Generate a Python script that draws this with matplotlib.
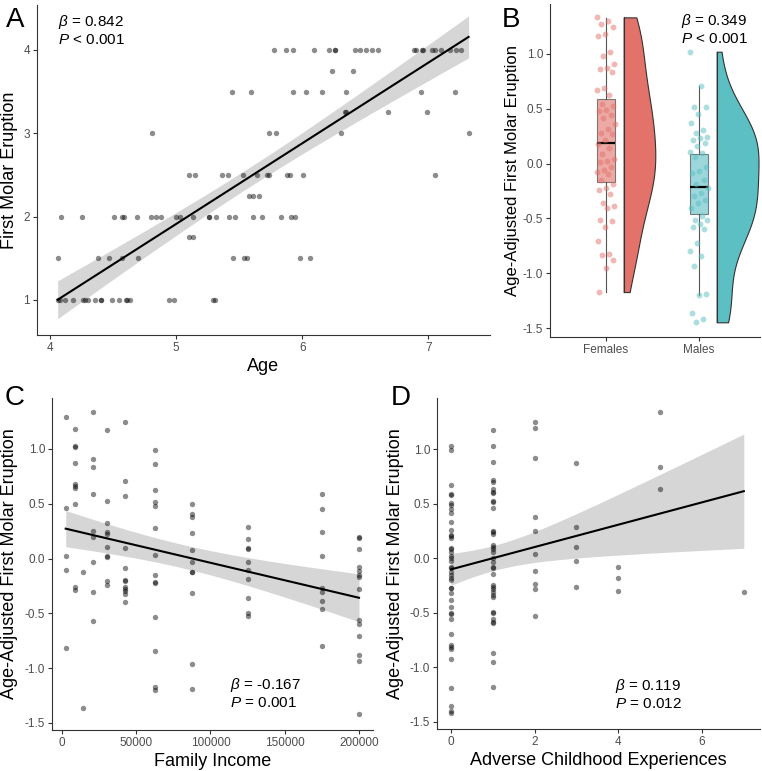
import matplotlib
matplotlib.use("Agg")
import matplotlib.pyplot as plt
import numpy as np

plt.rcParams['font.family'] = ['Liberation Sans', 'DejaVu Sans']
plt.rcParams['mathtext.fontset'] = 'custom'
plt.rcParams['mathtext.it'] = 'Liberation Sans:italic'
plt.rcParams['mathtext.rm'] = 'Liberation Sans'
plt.rcParams['axes.unicode_minus'] = False

# ---- A: age vs first molar eruption score
age_a = [5.78, 5.87, 5.93, 6.09, 6.21, 6.26, 6.26, 6.42, 6.46, 6.51, 6.55, 6.60, 6.89, 6.90, 6.95, 6.96, 7.03, 7.05, 7.10, 7.17, 7.22, 7.26,
         6.24, 6.40,
         5.44, 5.59, 5.93, 6.03, 6.16, 6.35, 6.94, 7.21,
         6.34, 6.35, 6.68, 6.99,
         4.81, 5.74, 5.79, 6.31, 7.32,
         5.10, 5.15, 5.36, 5.41, 5.53, 5.64, 5.72, 5.74, 5.88, 5.90, 6.01, 7.05,
         5.58, 5.61, 5.66,
         4.09, 4.25, 4.51, 4.57, 4.59, 4.69, 4.80, 4.84, 4.88, 5.00, 5.03, 5.13, 5.26, 5.26, 5.32, 5.42, 5.47, 5.61, 5.68, 5.83, 5.91, 5.94,
         5.10, 5.13,
         4.06, 4.38, 4.47, 4.57, 4.70, 5.45, 5.54, 5.56, 5.98, 6.06,
         4.06, 4.08, 4.12, 4.18, 4.26, 4.28, 4.30, 4.36, 4.40, 4.40, 4.49, 4.55, 4.60, 4.61, 4.63, 4.94, 4.98, 5.29, 5.31]
molar_a = [4.0]*22 + [3.75]*2 + [3.5]*8 + [3.25]*4 + [3.0]*5 + [2.5]*12 + [2.25]*3 + [2.0]*22 + [1.75]*2 + [1.5]*10 + [1.0]*19

# ---- B: age-adjusted eruption by sex
females = [1.334, 1.304, 1.273, 1.243, 1.182, 1.164, 1.021, 0.985, 0.909, 0.869, 0.860, 0.833, 0.687, 0.672, 0.626,
           0.544, 0.526, 0.490, 0.484, 0.444, 0.414, 0.362, 0.313, 0.283, 0.271, 0.216, 0.180, 0.140, 0.089, 0.040,
           0.028, 0.010, -0.027, -0.057, -0.081, -0.094, -0.148, -0.185, -0.224, -0.239, -0.276, -0.355, -0.391,
           -0.406, -0.513, -0.528, -0.574, -0.710, -0.823, -0.832, -0.877, -0.956, -1.172]
males = [1.021, 0.708, 0.520, 0.520, 0.453, 0.368, 0.307, 0.283, 0.241, 0.231, 0.216, 0.186, 0.156, 0.110, 0.095,
         0.058, -0.027, -0.072, -0.087, -0.148, -0.185, -0.224, -0.270, -0.300, -0.330, -0.355, -0.406, -0.482,
         -0.513, -0.519, -0.549, -0.574, -0.598, -0.725, -0.801, -0.847, -0.932, -1.187, -1.196, -1.363, -1.415, -1.448]
sex_labels = ['Females', 'Males']
box_q1 = [-0.17, -0.46]
box_med = [0.19, -0.21]
box_q3 = [0.585, 0.09]
box_lo = [-1.17, -1.20]
box_hi = [1.33, 0.71]

# ---- C: family income
income_c = [2500]*5 + [9000]*10 + [14000]*2 + [21000]*9 + [30000]*10 + [42500]*12 + [62500]*14 + [87500]*11 + [125000]*10 + [175000]*9 + [200000]*14
adj_c = [1.289, 0.459, 0.019, -0.103, -0.816,
         1.185, 1.027, 1.021, 0.875, 0.681, 0.663, 0.642, 0.499, -0.255, -0.291,
         -0.124, -1.363,
         1.334, 0.909, 0.833, 0.587, 0.256, 0.201, -0.027, -0.306, -0.567,
         1.173, 0.523, 0.329, 0.247, 0.225, 0.110, 0.019, 0.010, -0.209, -0.239,
         1.249, 0.711, 0.572, 0.095, -0.087, -0.194, -0.203, -0.261, -0.279, -0.300, -0.321, -0.400,
         0.988, 0.866, 0.626, 0.520, 0.484, 0.277, 0.034, -0.154, -0.215, -0.224, -0.537, -0.844, -1.172, -1.196,
         0.499, 0.405, 0.377, 0.231, 0.080, -0.027, -0.124, -0.127, -0.315, -0.959, -1.187,
         0.292, 0.183, 0.095, 0.086, -0.030, -0.103, -0.188, -0.361, -0.498, -0.522,
         0.590, 0.450, 0.240, 0.028, -0.270, -0.309, -0.391, -0.458, -0.795,
         0.201, 0.189, 0.089, -0.078, -0.109, -0.148, -0.170, -0.279, -0.558, -0.598, -0.710, -0.880, -0.932, -1.415]

# ---- D: adverse childhood experiences
ace_d = [0]*43 + [1]*37 + [2]*10 + [3]*5 + [4]*3 + [5]*3 + [7]
adj_d = [1.030, 0.991, 0.670, 0.585, 0.578, 0.502, 0.487, 0.450, 0.410, 0.334, 0.257, 0.212, 0.205, 0.187, 0.089,
         0.083, 0.059, 0.022, -0.002, -0.027, -0.079, -0.094, -0.125, -0.155, -0.180, -0.201, -0.272, -0.277,
         -0.323, -0.384, -0.446, -0.506, -0.516, -0.559, -0.699, -0.797, -0.813, -0.834, -0.925, -1.194, -1.353,
         -1.402, -1.423,
         1.174, 1.030, 0.878, 0.716, 0.694, 0.633, 0.608, 0.594, 0.523, 0.517, 0.462, 0.248, 0.236, 0.218, 0.120,
         0.105, 0.083, 0.059, -0.002, -0.033, -0.079, -0.088, -0.149, -0.247, -0.262, -0.284, -0.308, -0.338,
         -0.353, -0.491, -0.506, -0.559, -0.583, -0.598, -0.873, -0.950, -1.179,
         1.251, 1.189, 0.914, 0.374, 0.248, 0.040, -0.116, -0.238, -0.287, -0.528,
         0.868, 0.282, 0.099, -0.024, -0.262,
         -0.085, -0.183, -0.302,
         1.336, 0.835, 0.636,
         -0.314]

W, H = 762, 771
fig = plt.figure(figsize=(W/100, H/100), dpi=100)

def make_ax(x0, x1, y0, y1):
    return fig.add_axes([x0/W, 1 - y1/H, (x1 - x0)/W, (y1 - y0)/H])

def style(ax):
    for s in ['top', 'right']:
        ax.spines[s].set_visible(False)
    for s in ['left', 'bottom']:
        ax.spines[s].set_color('#333333')
        ax.spines[s].set_linewidth(0.8)
    ax.tick_params(length=3, width=0.8, color='#333333', labelcolor='#4D4D4D', labelsize=8.5, pad=2)

def lm_fit(ax, x, y):
    x = np.asarray(x, float)
    y = np.asarray(y, float)
    b, a = np.polyfit(x, y, 1)
    n = len(x)
    res = y - (a + b*x)
    s = np.sqrt(np.sum(res**2)/(n - 2))
    xs = np.linspace(x.min(), x.max(), 100)
    se = s*np.sqrt(1/n + (xs - x.mean())**2/np.sum((x - x.mean())**2))
    fit = a + b*xs
    ax.fill_between(xs, fit - 1.98*se, fit + 1.98*se, color='#D6D6D6', lw=0, zorder=1)
    ax.plot(xs, fit, color='black', lw=1.5, zorder=3)

def scatter(ax, x, y):
    ax.scatter(x, y, s=15, color='black', alpha=0.45, lw=0, zorder=2)

def stats_text(ax, x, y, beta, p):
    ax.text(x, y, r'$\beta$ = ' + beta, transform=ax.transAxes, fontsize=11, va='center')
    ax.text(x, y - 0.054, r'$P$ ' + p, transform=ax.transAxes, fontsize=11, va='center')

ylab = 'Age-Adjusted First Molar Eruption'

# Panel A
ax = make_ax(37, 490, 5, 335)
style(ax)
scatter(ax, age_a, molar_a)
lm_fit(ax, age_a, molar_a)
ax.set_xlim(3.896, 7.49)
ax.set_ylim(0.58, 4.54)
ax.set_xticks([4, 5, 6, 7])
ax.set_yticks([1, 2, 3, 4])
stats_text(ax, 0.046, 0.948, '0.842', '< 0.001')
ax.set_xlabel('Age', fontsize=13, labelpad=3)
fig.text(10/W, 1 - 170/H, 'First Molar Eruption', rotation=90, ha='center', va='center', fontsize=13)

# Panel B
ax = make_ax(550, 760, 4, 337)
style(ax)
pos = np.array([1, 2])
box_cols = ['#E2726A', '#5BBFC3']
violin_w = [0.34, 0.45]
groups = [females, males]
stats = [dict(med=box_med[i], q1=box_q1[i], q3=box_q3[i], whislo=box_lo[i], whishi=box_hi[i], fliers=[])
         for i in range(2)]
bp = ax.bxp(stats, positions=pos, widths=0.2, showcaps=False, patch_artist=True,
            boxprops=dict(edgecolor='#333333', lw=0.8),
            whiskerprops=dict(color='#555555', lw=0.8),
            medianprops=dict(color='black', lw=1.6), zorder=2)
for patch, c in zip(bp['boxes'], box_cols):
    patch.set_facecolor(c)
    patch.set_alpha(0.6)
    patch.set_edgecolor('#333333')

# half violins (gaussian kde, nrd0 bandwidth, trimmed to data range)
for i, vals in enumerate(groups):
    v = np.asarray(vals)
    n = len(v)
    iqr = np.percentile(v, 75) - np.percentile(v, 25)
    bw = 0.9*min(v.std(ddof=1), iqr/1.34)*n**-0.2
    grid = np.linspace(v.min(), v.max(), 300)
    d = np.exp(-0.5*((grid[:, None] - v[None, :])/bw)**2).sum(1)
    x0 = pos[i] + 0.19
    ax.fill_betweenx(grid, x0, x0 + d/d.max()*violin_w[i], facecolor=box_cols[i], edgecolor='#333333', lw=0.8, zorder=2)
    ax.plot([x0, x0], [grid.min(), grid.max()], color='#333333', lw=0.8, zorder=3)

for i, vals in enumerate(groups):
    k = np.arange(len(vals))
    jit = ((k*0.6180339) % 1 - 0.5)*0.2
    ax.scatter(pos[i] + jit, vals, s=18, color=box_cols[i], alpha=0.5, lw=0, zorder=4)

ax.set_xlim(0.398, 2.656)
ax.set_ylim(-1.582, 1.456)
ax.set_xticks(pos)
ax.set_xticklabels(sex_labels)
ax.set_yticks([-1.5, -1.0, -0.5, 0.0, 0.5, 1.0])
ax.set_yticklabels(['-1.5', '-1.0', '-0.5', '0.0', '0.5', '1.0'])
stats_text(ax, 0.624, 0.948, '0.349', '< 0.001')
fig.text(512/W, 1 - 170/H, ylab, rotation=90, ha='center', va='center', fontsize=12)

# Panel C
ax = make_ax(52, 373, 398, 730)
style(ax)
scatter(ax, income_c, adj_c)
lm_fit(ax, income_c, adj_c)
ax.set_xlim(-6734, 209428)
ax.set_ylim(-1.564, 1.465)
ax.set_xticks([0, 50000, 100000, 150000, 200000])
ax.set_xticklabels(['0', '50000', '100000', '150000', '200000'])
ax.set_yticks([-1.5, -1.0, -0.5, 0.0, 0.5, 1.0])
ax.set_yticklabels(['-1.5', '-1.0', '-0.5', '0.0', '0.5', '1.0'])
stats_text(ax, 0.555, 0.136, '-0.167', '= 0.001')
ax.set_xlabel('Family Income', fontsize=13, labelpad=3)
fig.text(10/W, 1 - 564/H, ylab, rotation=90, ha='center', va='center', fontsize=13)

# Panel D
ax = make_ax(437, 760, 398, 729)
style(ax)
scatter(ax, ace_d, adj_d)
lm_fit(ax, ace_d, adj_d)
ax.set_xlim(-0.335, 7.387)
ax.set_ylim(-1.567, 1.468)
ax.set_xticks([0, 2, 4, 6])
ax.set_yticks([-1.5, -1.0, -0.5, 0.0, 0.5, 1.0])
ax.set_yticklabels(['-1.5', '-1.0', '-0.5', '0.0', '0.5', '1.0'])
stats_text(ax, 0.551, 0.130, '0.119', '= 0.012')
ax.set_xlabel('Adverse Childhood Experiences', fontsize=13, labelpad=3)
fig.text(395/W, 1 - 564/H, ylab, rotation=90, ha='center', va='center', fontsize=13)

# panel letters
for lab, x, y in [('A', 15, 20), ('B', 511, 20), ('C', 15, 398), ('D', 401, 398)]:
    fig.text(x/W, 1 - y/H, lab, fontsize=20, ha='center', va='center')

fig.savefig('out.png', dpi=100)
